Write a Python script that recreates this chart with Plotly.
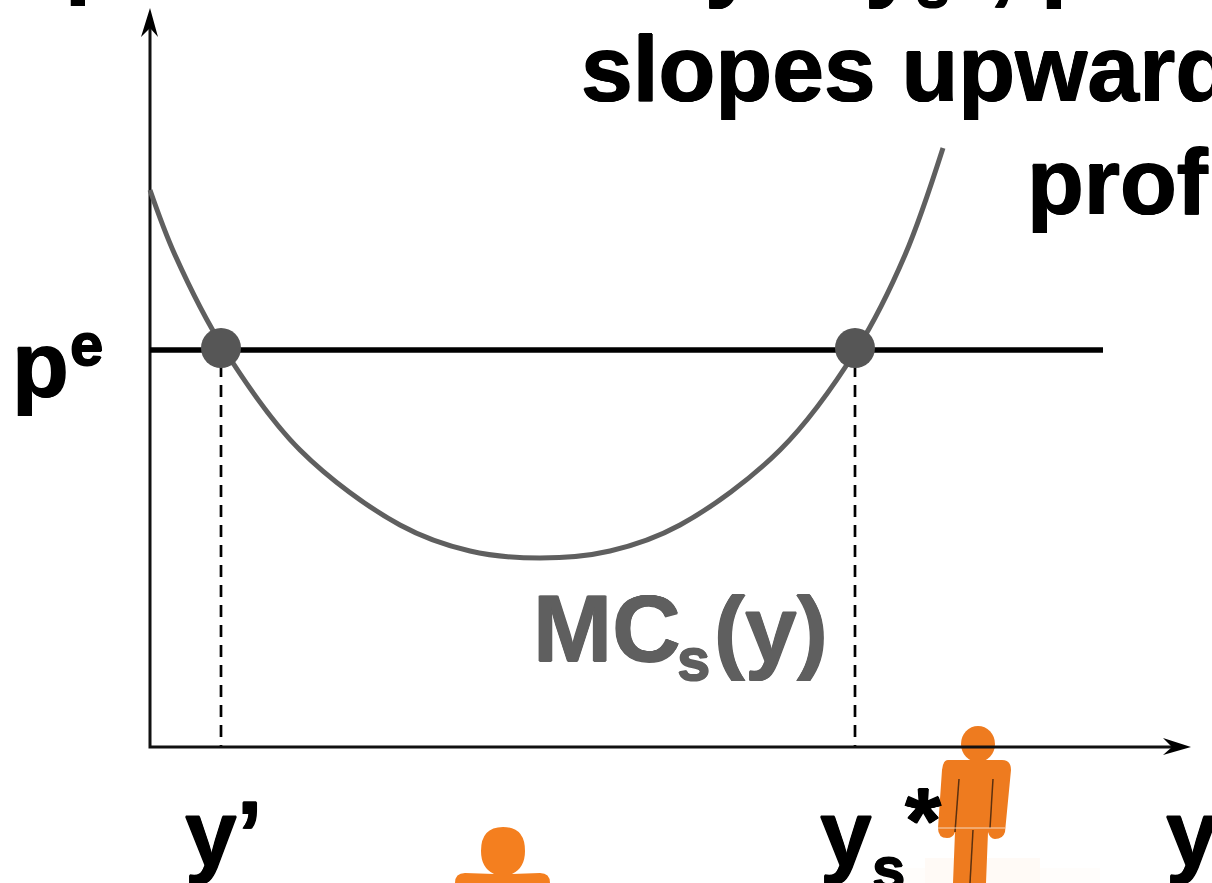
import plotly.graph_objects as go

# All positions in picture units (x right, y down)
curve_x = [150,175,224,300,400,470,540,610,680,780,857,905,943]
curve_y = [190,255,349,450,525,551,558,551,525,450,349,255,148]
price_x = [150,1103]
price_y = [350,350]
eq_x = [221,855]
eq_y = [348,348]
axis_x = [150,150,1175]
axis_y = [26,747,747]
drop_left_x = [221,221]
drop_right_x = [855,855]
drop_y = [365,747]

big_labels = ["slopes upward","prof","p","y","y",",","p","p","y’","y","*","y"]
big_x = [581,1027,65,705,865,989,1041,12,185,820,905,1166]
big_y = [124,237,10,13,13,16,13,420,889,889,876,889]
small_labels = ["s","e","s"]
small_x = [916,70,872]
small_y = [22,380,904]
mc_label = ["MC"]
mc_sub = ["s"]
mc_end = ["(y)"]

BLACK = "#000000"; GRAY = "#5f5f5f"; ORANGE = "#ee7b1f"
FONT = "Liberation Sans"
def heavy(c):
    d = 0.7
    return f"{d}px 0 0 {c}, -{d}px 0 0 {c}, 0 {d}px 0 {c}, 0 -{d}px 0 {c}"
fig = go.Figure()

shapes = [
    dict(type="rect", x0=900, x1=1100, y0=868, y1=883, fillcolor="#fffdfb", line_width=0, layer="below"),
    dict(type="rect", x0=925, x1=1040, y0=858, y1=883, fillcolor="#fffaf6", line_width=0, layer="below"),
    dict(type="circle", x0=961, x1=995, y0=726, y1=762, fillcolor=ORANGE, line_width=0, layer="below"),
    dict(type="path", path="M948,760 L1002,760 Q1011,760 1011,770 L1005,832 Q1003,839 995,839 Q990,839 988,832 L986,883 L953,883 L955,832 Q953,838 947,838 Q938,838 938,828 L942,770 Q943,760 948,760 Z",
         fillcolor=ORANGE, line_width=0, layer="below"),
    dict(type="line", x0=959, x1=955, y0=779, y1=832, line=dict(color="#5a3010", width=1.5), layer="below"),
    dict(type="line", x0=993, x1=990, y0=779, y1=828, line=dict(color="#5a3010", width=1.5), layer="below"),
    dict(type="line", x0=973, x1=970, y0=830, y1=883, line=dict(color="#5a3010", width=1.5), layer="below"),
    dict(type="line", x0=938, x1=1005, y0=828, y1=828, line=dict(color="#f6d9bf", width=1), layer="below"),
    dict(type="path", path="M503,827 Q525,827 525,851 Q525,868 512,874 L540,873 Q550,873 550,883 L455,883 Q455,873 465,873 L494,874 Q481,868 481,851 Q481,827 503,827 Z",
         fillcolor="#f47f1f", line_width=0, layer="below"),
    # barbed axis arrow heads
    dict(type="path", path="M150,8 L158,37 L150,28 L141,37 Z", fillcolor=BLACK, line_width=0),
    dict(type="path", path="M1191,747 L1163,738 L1172,747 L1163,755 Z", fillcolor=BLACK, line_width=0),
]

fig.add_trace(go.Scatter(x=drop_left_x, y=drop_y, mode="lines", line=dict(color=BLACK, width=2.7, dash="12px,8px")))
fig.add_trace(go.Scatter(x=drop_right_x, y=drop_y, mode="lines", line=dict(color=BLACK, width=2.7, dash="12px,8px")))
fig.add_trace(go.Scatter(x=axis_x, y=axis_y, mode="lines", line=dict(color="#111111", width=3)))
fig.add_trace(go.Scatter(x=curve_x, y=curve_y, mode="lines", line=dict(color=GRAY, width=5, shape="spline", smoothing=1.0)))
fig.add_trace(go.Scatter(x=price_x, y=price_y, mode="lines", line=dict(color=BLACK, width=5.5)))
fig.add_trace(go.Scatter(x=eq_x, y=eq_y, mode="markers", marker=dict(color="#565656", size=40)))

fig.add_trace(go.Scatter(x=big_x, y=big_y, mode="text", text=big_labels, textposition="top right",
                         textfont=dict(family=FONT, size=93, color=BLACK, weight="bold", shadow=heavy(BLACK))))
fig.add_trace(go.Scatter(x=small_x, y=small_y, mode="text", text=small_labels, textposition="top right",
                         textfont=dict(family=FONT, size=60, color=BLACK, weight="bold", shadow=heavy(BLACK))))
fig.add_trace(go.Scatter(x=[533], y=[685], mode="text", text=mc_label, textposition="top right",
                         textfont=dict(family=FONT, size=95, color=GRAY, weight="bold", shadow=heavy(GRAY))))
fig.add_trace(go.Scatter(x=[677], y=[695], mode="text", text=mc_sub, textposition="top right",
                         textfont=dict(family=FONT, size=60, color=GRAY, weight="bold", shadow=heavy(GRAY))))
fig.add_trace(go.Scatter(x=[714], y=[685], mode="text", text=mc_end, textposition="top right",
                         textfont=dict(family=FONT, size=93, color=GRAY, weight="bold", shadow=heavy(GRAY))))

fig.update_layout(width=1212, height=883, margin=dict(l=0,r=0,t=0,b=0), showlegend=False,
                  paper_bgcolor="white", plot_bgcolor="white", shapes=shapes,
                  xaxis=dict(range=[0,1212], visible=False, fixedrange=True),
                  yaxis=dict(range=[883,0], visible=False, fixedrange=True))
fig.write_html("out.html", config=dict(displayModeBar=False),
               post_script="document.body.style.margin='0';document.body.style.overflow='hidden';")
